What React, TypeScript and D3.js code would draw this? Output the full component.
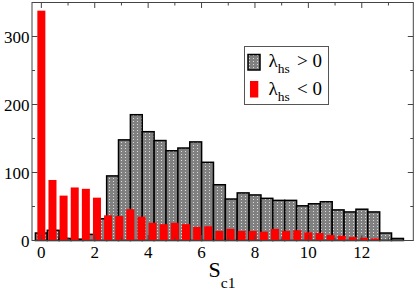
import React from 'react';
import * as d3 from 'd3';

// histogram of S_c1, lambda_hs > 0 (gray) and lambda_hs < 0 (red)
const posCenters = [0, 0.445, 0.889, 1.334, 1.778, 2.223, 2.668, 3.112, 3.557, 4.001, 4.446, 4.891,
  5.335, 5.78, 6.224, 6.669, 7.114, 7.558, 8.003, 8.447, 8.892, 9.337, 9.781, 10.226, 10.67,
  11.115, 11.56, 12.004, 12.449, 12.893, 13.338];
const posCounts = [11, 15, 3, 2, 9, 32, 95, 148, 185, 160, 147, 132, 136, 145, 115, 82, 61, 70,
  67, 62, 59, 59, 51, 54, 57, 45, 42, 46, 42, 11, 3];
const posBinWidth = 0.4446;

const negCenters = [0, 0.417, 0.833, 1.25, 1.667, 2.083, 2.5, 2.917, 3.333, 3.75, 4.167, 4.583,
  5.0, 5.417, 5.833, 6.25, 6.667, 7.083, 7.5, 7.917, 8.333, 8.75, 9.167, 9.583, 10.0, 10.417,
  10.833, 11.25, 11.667, 12.083, 12.5];
const negCounts = [338, 89, 66, 78, 76, 63, 37, 36, 46, 35, 26, 24, 26, 24, 20, 21, 14, 17, 14,
  14, 13, 17, 14, 15, 12, 11, 8, 7, 5, 4, 3];
const negBarWidth = 0.3;

const xMajor = [0, 2, 4, 6, 8, 10, 12];
const xMinor = [1, 3, 5, 7, 9, 11, 13];
const yMajor = [0, 100, 200, 300];
const yMinor = [50, 150, 250];

const W = 415;
const H = 290;
const left = 32, right = 413.3, top = 2.5, bottom = 240.5;
const font = "'Liberation Serif', 'DejaVu Serif', serif";

export default function App() {
  const x = d3.scaleLinear().domain([-0.35, 13.93]).range([left, right]);
  const y = d3.scaleLinear().domain([0, 350]).range([bottom, top]);

  const frame = '#444';

  return (
    <svg width={W} height={H} fontFamily={font}
      style={{ position: 'absolute', left: 0, top: 0, background: '#fff' }}>
      <defs>
        <pattern id="dots" width="4" height="3" patternUnits="userSpaceOnUse">
          <rect width="4" height="3" fill="#808080" />
          <rect x="1" y="1" width="1" height="1" fill="#dcdcdc" />
        </pattern>
      </defs>

      {/* gray histogram */}
      {posCenters.map((c, i) => (
        <rect key={'p' + i}
          x={x(c - posBinWidth / 2)}
          y={y(posCounts[i])}
          width={x(c + posBinWidth / 2) - x(c - posBinWidth / 2)}
          height={y(0) - y(posCounts[i])}
          fill="url(#dots)" stroke="#000" strokeWidth={1.5} />
      ))}

      {/* red histogram */}
      {negCenters.map((c, i) => (
        <rect key={'n' + i}
          x={x(c - negBarWidth / 2)}
          y={y(negCounts[i])}
          width={x(c + negBarWidth / 2) - x(c - negBarWidth / 2)}
          height={y(0) - y(negCounts[i])}
          fill="#ff0000" />
      ))}

      {/* frame */}
      <rect x={left} y={top} width={right - left} height={bottom - top}
        fill="none" stroke={frame} strokeWidth={1} />

      {/* x ticks */}
      {xMajor.map(v => (
        <g key={'xm' + v}>
          <line x1={x(v)} x2={x(v)} y1={bottom} y2={bottom - 5.5} stroke={frame} />
          <line x1={x(v)} x2={x(v)} y1={top} y2={top + 5.5} stroke={frame} />
          <text x={x(v)} y={258} fontSize={17} textAnchor="middle" fill="#000">{v}</text>
        </g>
      ))}
      {xMinor.map(v => (
        <g key={'xn' + v}>
          <line x1={x(v)} x2={x(v)} y1={bottom} y2={bottom - 3} stroke={frame} />
          <line x1={x(v)} x2={x(v)} y1={top} y2={top + 3} stroke={frame} />
        </g>
      ))}

      {/* y ticks */}
      {yMajor.map(v => (
        <g key={'ym' + v}>
          <line x1={left} x2={left + 5.5} y1={y(v)} y2={y(v)} stroke={frame} />
          <line x1={right} x2={right - 5.5} y1={y(v)} y2={y(v)} stroke={frame} />
          <text x={29.5} y={y(v)} dy="0.36em" fontSize={17} textAnchor="end" fill="#000">{v}</text>
        </g>
      ))}
      {yMinor.map(v => (
        <g key={'yn' + v}>
          <line x1={left} x2={left + 3} y1={y(v)} y2={y(v)} stroke={frame} />
          <line x1={right} x2={right - 3} y1={y(v)} y2={y(v)} stroke={frame} />
        </g>
      ))}

      {/* axis label */}
      <text x={208.5} y={277} fontSize={22} fill="#000">S<tspan fontSize={15.5} dy={10.5}>c1</tspan></text>

      {/* legend */}
      <rect x={244.5} y={46.5} width={84} height={58} fill="#fff" stroke="#555" strokeWidth={1} />
      <rect x={248} y={54.5} width={12} height={15.5} fill="url(#dots)" stroke="#000" strokeWidth={1.5} />
      <rect x={250} y={81} width={8.3} height={16.5} fill="#ff0000" />
      <text x={268.5} y={67} fontSize={19} fill="#000">λ<tspan fontSize={13.5} dy={5.5}>hs</tspan><tspan x={297} dy={-5.5}>&gt; 0</tspan></text>
      <text x={268.5} y={95} fontSize={19} fill="#000">λ<tspan fontSize={13.5} dy={5.5}>hs</tspan><tspan x={297} dy={-5.5}>&lt; 0</tspan></text>
    </svg>
  );
}
